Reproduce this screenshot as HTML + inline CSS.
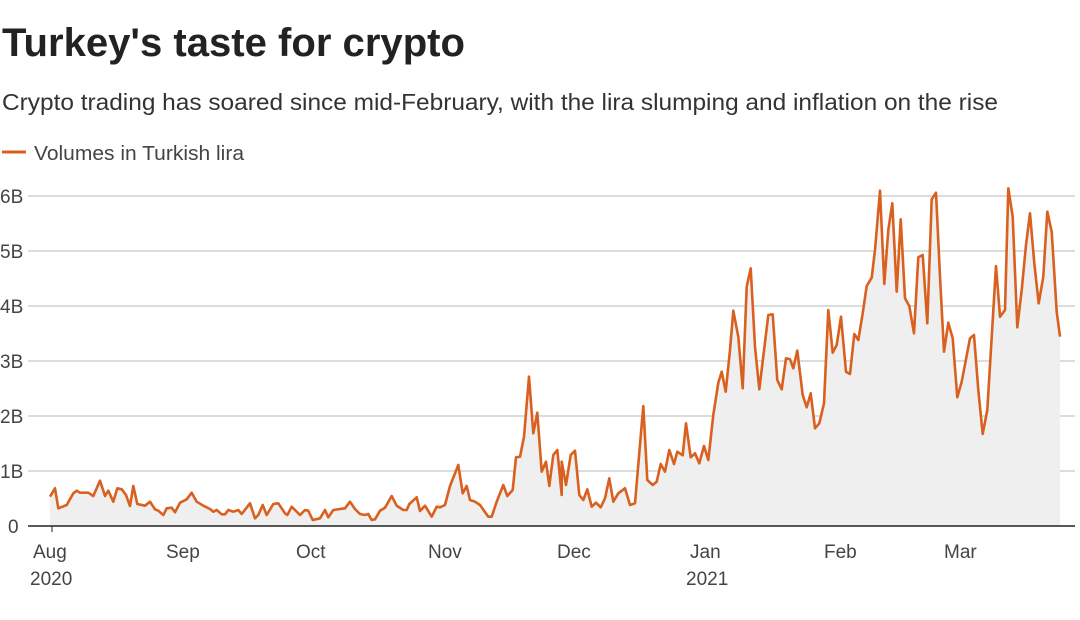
<!DOCTYPE html>
<html><head><meta charset="utf-8"><style>
body{margin:0;width:1080px;height:620px;background:#fff;overflow:hidden;font-family:"Liberation Sans",sans-serif;}
svg{position:absolute;left:0;top:0}
</style></head><body>
<svg width="1080" height="620" id="s" font-family="Liberation Sans, sans-serif">
<text x="2" y="56" font-size="40" font-weight="bold" fill="#222" textLength="463" lengthAdjust="spacingAndGlyphs">Turkey's taste for crypto</text>
<text x="2" y="110" font-size="23.5" fill="#333" textLength="996" lengthAdjust="spacingAndGlyphs">Crypto trading has soared since mid-February, with the lira slumping and inflation on the rise</text>
<line x1="2" y1="152" x2="26" y2="152" stroke="#d9601f" stroke-width="3"/>
<text x="34" y="160" font-size="20" fill="#444" textLength="210" lengthAdjust="spacingAndGlyphs">Volumes in Turkish lira</text>
<g stroke="#c8c8c8" stroke-width="1.2">
<line x1="28" y1="196" x2="1075" y2="196"/><line x1="28" y1="251" x2="1075" y2="251"/>
<line x1="28" y1="306" x2="1075" y2="306"/><line x1="28" y1="361" x2="1075" y2="361"/>
<line x1="28" y1="416" x2="1075" y2="416"/><line x1="28" y1="471" x2="1075" y2="471"/>
</g>
<g font-size="19" fill="#444">
<text x="0" y="203">6B</text><text x="0" y="258">5B</text><text x="0" y="313">4B</text>
<text x="0" y="368">3B</text><text x="0" y="423">2B</text><text x="0" y="478">1B</text><text x="8" y="533">0</text>
</g>
<path id="area" fill="#efefef"/>
<path id="ln" fill="none" stroke="#d9601f" stroke-width="2.6" stroke-linejoin="round"/>
<line x1="28" y1="526" x2="1075" y2="526" stroke="#222" stroke-width="1.5"/>
<g stroke="#222"><line x1="52" y1="526" x2="52" y2="532"/></g>
<g font-size="19" fill="#444">
<text x="33" y="558">Aug</text><text x="30" y="585">2020</text>
<text x="166" y="558">Sep</text><text x="296" y="558">Oct</text><text x="428" y="558">Nov</text>
<text x="557" y="558">Dec</text><text x="690" y="558">Jan</text><text x="686" y="585">2021</text>
<text x="824" y="558">Feb</text><text x="944" y="558">Mar</text>
</g>
</svg>
<script>
var a=[30,410,45,385,55,445,80,435,100,400,110,392,120,398,145,398,160,408,180,362,195,408,205,392,220,425,232,385,245,388,258,405,270,438,280,378,292,432,315,437,330,425,345,448,355,452,370,465,380,445,395,443,405,457,420,428,440,418,455,398,470,425,490,437,510,447,520,455,530,450,545,463,555,463,565,450,580,455,595,450,605,462,630,430,645,475,655,465,668,435,680,465,700,432,715,430,735,460,742,465,755,440,770,455,780,465,795,450,805,452,818,480,840,475,855,450,865,472,880,450,900,447,915,445,930,425,945,447,960,462,975,465,985,462,995,480,1005,478,1020,452,1035,443,1055,408,1070,437,1090,450,1100,450,1108,432,1130,412,1140,453,1155,437,1175,470,1190,440,1200,442,1215,435,1230,378,1255,315,1268,400,1280,378,1290,420,1305,425,1320,435,1345,470,1355,470,1370,425,1390,375,1402,408,1418,390,1428,292,1440,290,1452,230,1467,50,1480,220,1492,158,1505,335,1518,305,1528,378,1540,285,1552,270,1565,405];
var b=[5,845,18,915,32,825,45,812,58,945,70,960,82,928,95,980,108,968,122,982,135,955,148,895,160,965,175,940,195,925,210,975,225,970,250,678,262,900,278,915,290,905,302,852,315,875,328,810,342,852,352,815,368,826,378,730,392,832,405,820,418,850,432,798,445,840,460,705,475,608,485,575,497,635,510,510,520,392,535,470,548,625,560,320,572,265,585,500,598,628,625,405,638,403,652,600,665,628,678,535,690,538,700,565,712,512,728,645,740,682,752,640,765,745,778,730,792,670,805,390,818,518,830,495,843,410,858,575,870,582,883,462,895,480,908,400,920,318,935,293,945,210,960,32,973,312,985,150,997,70,1010,335,1022,118,1035,355,1048,378,1062,460,1075,232,1088,225,1102,430,1115,58,1128,38,1140,290,1152,515,1165,428,1178,475,1192,652,1205,605,1230,475,1242,465,1255,630,1268,762,1282,690,1308,258,1320,410,1335,390,1345,25,1358,110,1372,442,1385,330,1398,195,1410,100,1423,250,1436,370,1450,290,1462,95,1475,155,1490,395,1500,470];
var p=[];
for(var i=0;i<a.length;i+=2)p.push([40+a[i]/3,360+a[i+1]/3]);
for(var i=0;i<b.length;i+=2)p.push([560+b[i]/3,180+b[i+1]/3]);
var d=p.map(function(q,i){return (i?'L':'M')+q[0].toFixed(1)+' '+q[1].toFixed(1)}).join('');
document.getElementById('ln').setAttribute('d',d);
document.getElementById('area').setAttribute('d',d+'L'+p[p.length-1][0].toFixed(1)+' 526L'+p[0][0].toFixed(1)+' 526Z');
</script>
</body></html>
